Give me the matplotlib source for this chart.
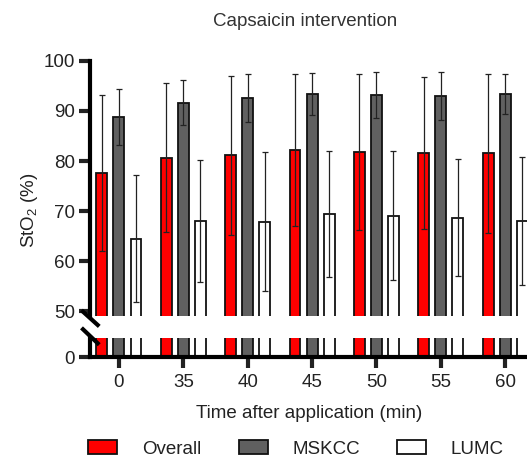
import matplotlib

matplotlib.use("Agg")
import matplotlib.pyplot as plt
import numpy as np
from matplotlib.lines import Line2D
from matplotlib.patches import Patch

plt.rcParams["font.family"] = ["Liberation Sans", "DejaVu Sans"]
plt.rcParams["mathtext.default"] = "regular"

# data
times = ["0", "35", "40", "45", "50", "55", "60"]
overall = [77.6, 80.7, 81.1, 82.2, 81.8, 81.6, 81.5]
overall_err = [15.6, 14.9, 15.9, 15.2, 15.6, 15.2, 15.8]
mskcc = [88.8, 91.6, 92.6, 93.4, 93.2, 93.0, 93.4]
mskcc_err = [5.6, 4.5, 4.8, 4.2, 4.6, 4.8, 4.0]
lumc = [64.5, 68.1, 67.9, 69.4, 69.1, 68.7, 68.1]
lumc_err = [12.7, 12.2, 13.8, 12.5, 12.9, 11.7, 12.8]

series = [
    ("Overall", overall, overall_err, "#ff0000"),
    ("MSKCC", mskcc, mskcc_err, "#606060"),
    ("LUMC", lumc, lumc_err, "#ffffff"),
]

W, H = 527, 463
FS = 13.5


def fx(px):
    return px / W


def fy(py):
    return 1 - py / H


def style_axis(ax):
    for s in ["top", "right"]:
        ax.spines[s].set_visible(False)
    for s in ["left", "bottom"]:
        ax.spines[s].set_linewidth(3)
    ax.tick_params(length=8, width=3, labelsize=FS, colors="#222222")
    ax.tick_params(axis="y", pad=3)
    ax.tick_params(axis="x", pad=4)


def main():
    fig = plt.figure(figsize=(W / 100, H / 100), dpi=100)
    left, right = fx(90), 1.0
    ax_top = fig.add_axes([left, fy(316), right - left, fy(60.7) - fy(316)])
    ax_bot = fig.add_axes([left, fy(357), right - left, fy(338) - fy(357)])

    x = np.arange(len(times))
    width = 0.17
    offsets = [-0.265, 0.0, 0.265]

    for (name, vals, errs, color), off in zip(series, offsets):
        ax_top.bar(x + off, vals, width, color=color, edgecolor="#111111", linewidth=1.3,
                   yerr=errs, error_kw=dict(ecolor="#222222", elinewidth=0.9, capsize=2, capthick=0.9),
                   zorder=2)
        ax_bot.bar(x + off, vals, width, color=color, edgecolor="#111111", linewidth=1.3, zorder=2)

    xlim = (-0.45, 6.34)
    ax_top.set_xlim(*xlim)
    ax_bot.set_xlim(*xlim)
    ax_top.set_ylim(49.1, 100)
    ax_bot.set_ylim(0, 3.8)

    style_axis(ax_top)
    style_axis(ax_bot)
    ax_top.spines["bottom"].set_visible(False)
    ax_top.tick_params(axis="x", bottom=False, labelbottom=False)
    ax_top.set_yticks([50, 60, 70, 80, 90, 100])
    ax_bot.set_yticks([0])
    ax_bot.set_xticks(x)
    ax_bot.set_xticklabels(times)

    # break marks on the y axis
    for y0, y1 in [(311.7, 325), (329.3, 343.3)]:
        fig.add_artist(Line2D([fx(83), fx(97.7)], [fy(y0), fy(y1)], color="black", lw=3))

    fig.text(fx(305), fy(22), "Capsaicin intervention", ha="center", va="center",
             fontsize=FS, color="#333333")
    fig.text(fx(30), fy(210), "StO$_2$ (%)", ha="center", va="center", rotation=90,
             fontsize=FS, color="#222222")
    fig.text(fx(309), fy(413), "Time after application (min)", ha="center", va="center",
             fontsize=FS, color="#222222")

    handles = [Patch(facecolor=c, edgecolor="#111111", linewidth=1.3, label=n)
               for n, _, _, c in series]
    fig.legend(handles=handles, loc="center", bbox_to_anchor=(fx(296), fy(449)), ncol=3,
               frameon=False, fontsize=FS, handlelength=1.55, handleheight=0.75,
               handletextpad=1.3, columnspacing=2.0, labelcolor="#222222")

    fig.savefig("out.png", dpi=100)
    plt.close(fig)


if __name__ == "__main__":
    main()
